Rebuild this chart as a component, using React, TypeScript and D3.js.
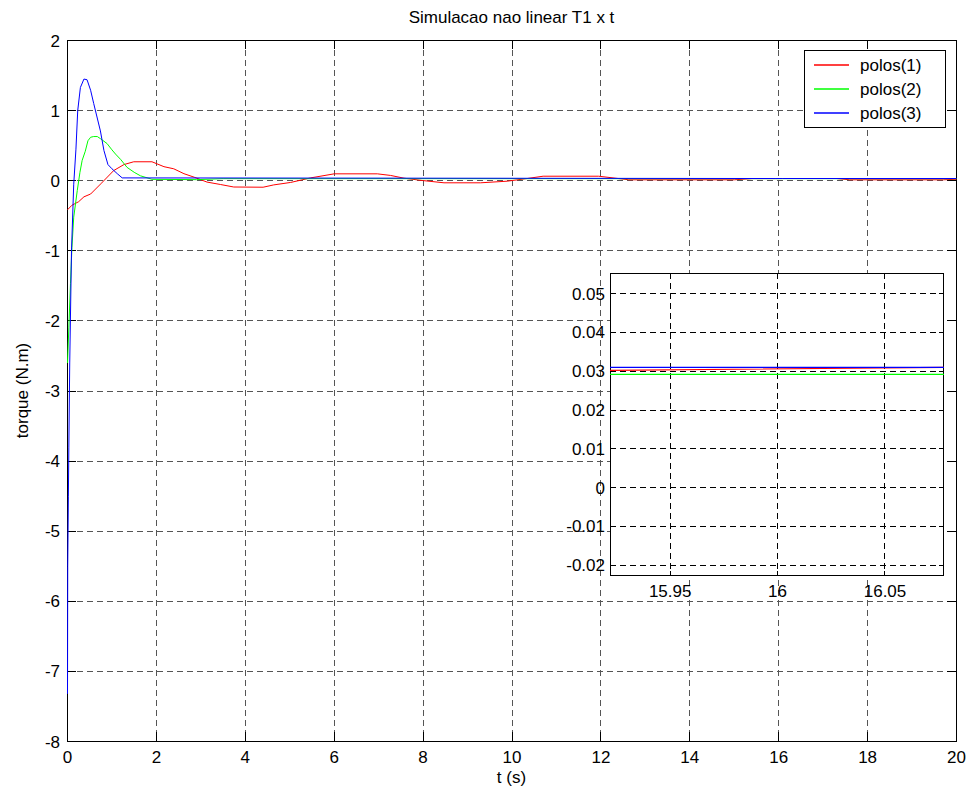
import React from "react";
import * as d3 from "d3";

// ---------- data ----------
const title = "Simulacao nao linear T1 x t";
const xLabel = "t (s)";
const yLabel = "torque (N.m)";
const seriesNames = ["polos(1)", "polos(2)", "polos(3)"];
const seriesColors = ["#ff0000", "#00ff00", "#0000ff"];

const redT = [0, 0.1, 0.25, 0.37, 0.52, 0.75, 1.04, 1.27, 1.49, 1.9, 2.17, 2.39, 2.62, 2.85, 3.14, 3.44, 3.74, 4.4, 4.64, 5.02, 5.47, 6.0, 6.97, 7.27, 7.57, 7.98, 8.47, 9.29, 9.89, 10.34, 10.7, 11.95, 12.63, 15.0, 15.4, 15.92, 16.08, 17.3, 17.6, 19.7, 20];
const redV = [-0.415, -0.35, -0.3, -0.23, -0.19, -0.044, 0.145, 0.23, 0.27, 0.27, 0.2, 0.17, 0.1, 0.05, -0.02, -0.054, -0.09, -0.093, -0.06, -0.025, 0.04, 0.098, 0.098, 0.075, 0.036, 0.003, -0.03, -0.03, -0.007, 0.031, 0.064, 0.064, 0.013, 0.013, 0.0298, 0.0302, 0.031, 0.031, 0.013, 0.013, 0.02];

const greenT = [0, 0.03, 0.067, 0.1, 0.14, 0.22, 0.28, 0.33, 0.4, 0.46, 0.52, 0.59, 0.67, 0.74, 0.89, 1.0, 1.08, 1.2, 1.34, 1.5, 1.64, 1.9, 2.9, 3.5, 15.92, 16.08, 20];
const greenV = [-2.6, -2.1, -1.47, -0.95, -0.52, -0.14, 0.12, 0.29, 0.42, 0.57, 0.62, 0.63, 0.63, 0.6, 0.53, 0.44, 0.38, 0.3, 0.19, 0.12, 0.07, 0.02, 0.015, 0.029, 0.0292, 0.0292, 0.0292];

const blueT = [0, 0.005, 0.02, 0.03, 0.05, 0.09, 0.14, 0.19, 0.23, 0.29, 0.37, 0.44, 0.52, 0.59, 0.74, 0.82, 0.91, 1.0, 1.12, 1.23, 15.92, 16.08, 20];
const blueV = [-7.32, -5.5, -4.5, -3.8, -2.6, -1.0, -0.05, 0.45, 1.0, 1.33, 1.45, 1.44, 1.29, 1.1, 0.71, 0.43, 0.23, 0.17, 0.1, 0.04, 0.031, 0.031, 0.031];

const mainXTicks = [0, 2, 4, 6, 8, 10, 12, 14, 16, 18, 20];
const mainYTicks = [2, 1, 0, -1, -2, -3, -4, -5, -6, -7, -8];
const insetXTicks = [15.95, 16, 16.05];
const insetXTickLabels = ["15.95", "16", "16.05"];
const insetYTicks = [0.05, 0.04, 0.03, 0.02, 0.01, 0, -0.01, -0.02];
const insetYTickLabels = ["0.05", "0.04", "0.03", "0.02", "0.01", "0", "-0.01", "-0.02"];
const mainXDomain = [0, 20];
const mainYDomain = [-8, 2];
const insetXDomain = [15.922, 16.077];
const insetYDomain = [-0.0225, 0.0553];

const seriesT = [redT, greenT, blueT];
const seriesV = [redV, greenV, blueV];

const FONT = "'Liberation Sans', Arial, Helvetica, sans-serif";

export default function App() {
  const W = 975, H = 798;
  // main axes box
  const mL = 67, mR = 956, mT = 40, mB = 741;
  const x = d3.scaleLinear().domain(mainXDomain).range([mL + 0.5, mR + 0.5]);
  const y = d3.scaleLinear().domain(mainYDomain).range([mB + 0.5, mT + 0.5]);
  // inset axes box
  const iL = 610, iR = 943, iT = 273, iB = 575;
  const ix = d3.scaleLinear().domain(insetXDomain).range([iL, iR]);
  const iy = d3.scaleLinear().domain(insetYDomain).range([iB, iT]);

  const mkLine = (sx: any, sy: any) =>
    d3.line<[number, number]>().x((d) => sx(d[0])).y((d) => sy(d[1]));
  const mainLine = mkLine(x, y);
  const insetLine = mkLine(ix, iy);
  const pts = (i: number) => seriesT[i].map((t, k) => [t, seriesV[i][k]] as [number, number]);

  const fs = 17;
  const mainTick = 9;
  const insetTick = 4;
  const px = (v: number) => Math.round(v - 0.5) + 0.5;

  return (
    <svg width={W} height={H} style={{ position: "absolute", left: 0, top: 0, background: "#fff" }} fontFamily={FONT}>
      <rect x={0} y={0} width={W} height={H} fill="#fff" />
      <defs>
        <clipPath id="mainClip"><rect x={mL - 1} y={mT - 1} width={mR - mL + 2} height={mB - mT + 2} /></clipPath>
        <clipPath id="insetClip"><rect x={iL} y={iT} width={iR - iL + 1} height={iB - iT} /></clipPath>
      </defs>

      {/* main grid */}
      <g stroke="#555" strokeWidth={1} strokeDasharray="6,4">
        {mainXTicks.filter((t) => t !== mainXDomain[0] && t !== mainXDomain[1]).map((t) => (
          <line key={"gx" + t} x1={px(x(t))} x2={px(x(t))} y1={mT} y2={mB} />
        ))}
        {mainYTicks.filter((t) => t !== mainYDomain[0] && t !== mainYDomain[1]).map((t) => (
          <line key={"gy" + t} y1={px(y(t))} y2={px(y(t))} x1={mL} x2={mR} />
        ))}
      </g>

      {/* main box and ticks */}
      <rect x={mL + 0.5} y={mT + 0.5} width={mR - mL} height={mB - mT} fill="none" stroke="#000" strokeWidth={1} />
      <g stroke="#000" strokeWidth={1}>
        {mainXTicks.map((t) => (
          <g key={"tx" + t}>
            <line x1={px(x(t))} x2={px(x(t))} y1={mB} y2={mB - mainTick} />
            <line x1={px(x(t))} x2={px(x(t))} y1={mT} y2={mT + mainTick} />
          </g>
        ))}
        {mainYTicks.map((t) => (
          <g key={"ty" + t}>
            <line y1={px(y(t))} y2={px(y(t))} x1={mL} x2={mL + mainTick} />
            <line y1={px(y(t))} y2={px(y(t))} x1={mR} x2={mR - mainTick} />
          </g>
        ))}
      </g>

      {/* main series (drawn over the box, as MATLAB does) */}
      <g clipPath="url(#mainClip)" fill="none" strokeWidth={1}>
        {[0, 1, 2].map((i) => (
          <path key={"s" + i} d={mainLine(pts(i)) || ""} stroke={seriesColors[i]} />
        ))}
      </g>

      <g fontSize={fs} fill="#000">
        {mainXTicks.map((t) => (
          <text key={"lx" + t} x={x(t)} y={mB + 22} textAnchor="middle">{String(t)}</text>
        ))}
        {mainYTicks.map((t) => (
          <text key={"ly" + t} x={mL - 7} y={y(t) + 6} textAnchor="end">{String(t)}</text>
        ))}
      </g>

      {/* titles */}
      <text x={(mL + mR) / 2} y={23} textAnchor="middle" fontSize={fs}>{title}</text>
      <text x={(mL + mR) / 2} y={783} textAnchor="middle" fontSize={fs}>{xLabel}</text>
      <text transform={`translate(28, ${(mT + mB) / 2}) rotate(-90)`} textAnchor="middle" fontSize={fs}>{yLabel}</text>

      {/* legend */}
      <g>
        <rect x={804.5} y={50.5} width={141} height={77} fill="#fff" stroke="#000" strokeWidth={1} />
        {seriesNames.map((n, i) => (
          <g key={"lg" + i}>
            <line x1={814} x2={849} y1={65 + i * 24} y2={65 + i * 24} stroke={seriesColors[i]} strokeWidth={1.4} />
            <text x={860} y={65 + i * 24 + 6} fontSize={fs}>{n}</text>
          </g>
        ))}
      </g>

      {/* inset */}
      <rect x={iL} y={iT} width={iR - iL} height={iB - iT} fill="#fff" />
      <g stroke="#000" strokeWidth={1} strokeDasharray="6,4">
        {insetXTicks.map((t) => (
          <line key={"igx" + t} x1={px(ix(t))} x2={px(ix(t))} y1={iT} y2={iB} />
        ))}
        {insetYTicks.map((t) => (
          <line key={"igy" + t} y1={px(iy(t))} y2={px(iy(t))} x1={iL} x2={iR} />
        ))}
      </g>
      <rect x={iL + 0.5} y={iT + 0.5} width={iR - iL} height={iB - iT} fill="none" stroke="#000" strokeWidth={1} />
      <g stroke="#000" strokeWidth={1}>
        {insetXTicks.map((t) => (
          <g key={"itx" + t}>
            <line x1={px(ix(t))} x2={px(ix(t))} y1={iB} y2={iB - insetTick} />
            <line x1={px(ix(t))} x2={px(ix(t))} y1={iT} y2={iT + insetTick} />
          </g>
        ))}
        {insetYTicks.map((t) => (
          <g key={"ity" + t}>
            <line y1={px(iy(t))} y2={px(iy(t))} x1={iL} x2={iL + insetTick} />
            <line y1={px(iy(t))} y2={px(iy(t))} x1={iR} x2={iR - insetTick} />
          </g>
        ))}
      </g>
      <g clipPath="url(#insetClip)" fill="none" strokeWidth={1.2}>
        {[0, 1, 2].map((i) => (
          <path key={"is" + i} d={insetLine(pts(i)) || ""} stroke={seriesColors[i]} />
        ))}
      </g>
      <g fontSize={fs} fill="#000">
        {insetXTicks.map((t, k) => (
          <text key={"ilx" + t} x={ix(t)} y={iB + 22} textAnchor="middle">{insetXTickLabels[k]}</text>
        ))}
        {insetYTicks.map((t, k) => (
          <text key={"ily" + t} x={iL - 5} y={iy(t) + 6} textAnchor="end">{insetYTickLabels[k]}</text>
        ))}
      </g>
    </svg>
  );
}
